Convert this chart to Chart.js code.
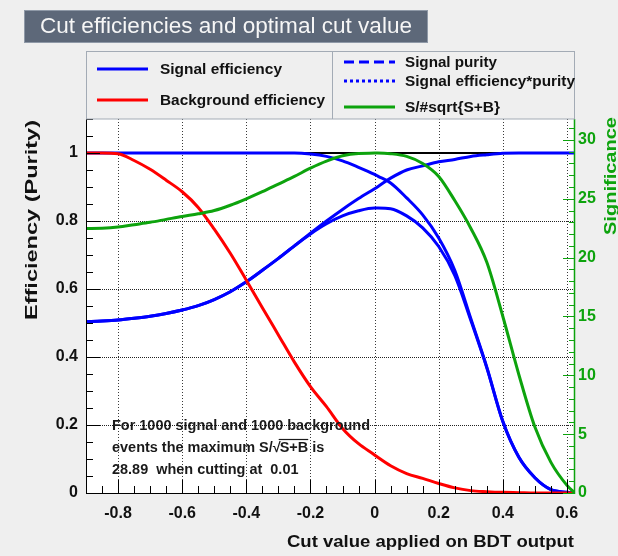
<!DOCTYPE html>
<html>
<head>
<meta charset="utf-8">
<title>Cut efficiencies and optimal cut value</title>
<script src="https://cdn.jsdelivr.net/npm/chart.js@4/dist/chart.umd.min.js"></script>
<style>
  html, body { margin: 0; padding: 0; background: #efefef; }
  #wrap { width: 618px; height: 556px; }
  canvas { display: block; }
</style>
</head>
<body>
<div id="wrap"><canvas id="cuts" width="618" height="556"></canvas></div>
<script>
// BDT cut values (x) and the efficiencies / significance obtained for each cut
const cutValues = [-0.9, -0.85, -0.8, -0.75, -0.7, -0.65, -0.6, -0.55, -0.5, -0.45, -0.4, -0.35, -0.3, -0.25,
                   -0.2, -0.15, -0.1, -0.05, 0, 0.01, 0.05, 0.1, 0.15, 0.2, 0.25, 0.3, 0.35, 0.4, 0.45, 0.5, 0.55, 0.6, 0.625];

const signalEfficiency = [1, 1, 1, 1, 1, 1, 1, 1, 1, 1, 1, 1, 1, 1,
                          0.997, 0.99, 0.977, 0.958, 0.937, 0.932, 0.912, 0.868, 0.818, 0.75, 0.655, 0.513, 0.37, 0.21, 0.105, 0.045, 0.01, 0.002, 0];

const backgroundEfficiency = [1, 1, 0.998, 0.978, 0.952, 0.92, 0.886, 0.84, 0.776, 0.705, 0.626, 0.545, 0.465, 0.385,
                              0.313, 0.254, 0.19, 0.145, 0.112, 0.105, 0.08, 0.057, 0.043, 0.028, 0.015, 0.007, 0.004, 0.002, 0.001, 0, 0, 0, 0];

const signalPurity = [0.504, 0.506, 0.509, 0.514, 0.52, 0.528, 0.538, 0.551, 0.569, 0.592, 0.621, 0.655, 0.69, 0.727,
                      0.764, 0.8, 0.834, 0.866, 0.895, 0.901, 0.926, 0.95, 0.962, 0.974, 0.981, 0.99, 0.995, 0.999, 1, 1, 1, 1, 1];

const signalEffTimesPurity = [0.504, 0.506, 0.509, 0.514, 0.52, 0.528, 0.538, 0.551, 0.569, 0.592, 0.621, 0.655, 0.69, 0.727,
                              0.762, 0.792, 0.815, 0.83, 0.838, 0.838, 0.836, 0.815, 0.78, 0.725, 0.64, 0.508, 0.368, 0.21, 0.105, 0.045, 0.01, 0.002, 0];

const significance = [22.48, 22.5, 22.6, 22.8, 23.0, 23.25, 23.5, 23.72, 24.0, 24.45, 25.0, 25.6, 26.25, 26.9,
                      27.6, 28.2, 28.65, 28.85, 28.88, 28.89, 28.83, 28.6, 28.0, 26.9, 24.85, 22.5, 19.6, 15.0, 10.05, 5.6, 2.6, 0.65, 0];

// Summary numbers quoted in the text box
const nSignalEvents = 1000;
const nBackgroundEvents = 1000;
const maxSignificance = 28.89;
const optimalCut = 0.01;

// Axis ranges and tick labels
const cutRange = [-0.9, 0.625];
const effRange = [0, 1.1];
const referenceLevel = 1;
const xTickValues = [-0.8, -0.6, -0.4, -0.2, 0, 0.2, 0.4, 0.6];
const xTickLabels = ['-0.8', '-0.6', '-0.4', '-0.2', '0', '0.2', '0.4', '0.6'];
const effTickValues = [0, 0.2, 0.4, 0.6, 0.8, 1];
const effTickLabels = ['0', '0.2', '0.4', '0.6', '0.8', '1'];
const sigTickValues = [0, 5, 10, 15, 20, 25, 30];
const sigTickLabels = ['0', '5', '10', '15', '20', '25', '30'];

const PAGE_BG = '#efefef';
const BLUE = '#0000ff';
const RED = '#ff0000';
const GREEN = '#0da30d';
const FONT = '"Liberation Sans", Arial, Helvetica, sans-serif';

function pts(values) {
  return cutValues.map((x, i) => ({ x: x, y: values[i] }));
}

// Draw text, squeezing it horizontally to the requested width
function fitText(ctx, text, x, y, width) {
  const w = ctx.measureText(text).width;
  const s = width ? width / w : 1;
  ctx.save();
  ctx.translate(x, y);
  ctx.scale(s, 1);
  ctx.fillText(text, 0, 0);
  ctx.restore();
  return w * s;
}

const decorations = {
  id: 'rootStyle',
  beforeDraw(chart) {
    const ctx = chart.ctx;
    const a = chart.chartArea;
    ctx.save();
    ctx.fillStyle = PAGE_BG;
    ctx.fillRect(0, 0, chart.width, chart.height);
    ctx.fillStyle = '#ffffff';
    ctx.fillRect(a.left, a.top, a.right - a.left, a.bottom - a.top);
    ctx.restore();
  },
  beforeDatasetsDraw(chart) {
    const ctx = chart.ctx;
    const a = chart.chartArea;
    const xs = chart.scales.x, ys = chart.scales.y;
    ctx.save();
    // dotted grid at the major ticks
    ctx.fillStyle = '#3a3a3a';
    xTickValues.forEach(v => {
      const px = Math.round(xs.getPixelForValue(v));
      for (let y = Math.ceil(a.top); y < a.bottom; y += 3) ctx.fillRect(px, y, 1, 1);
    });
    ctx.fillStyle = '#222222';
    effTickValues.forEach(v => {
      if (v <= 0) return;
      const py = Math.round(ys.getPixelForValue(v));
      for (let x = Math.ceil(a.left); x < a.right; x += 2) ctx.fillRect(x, py, 1, 1);
    });
    ctx.restore();
  },
  afterDatasetsDraw(chart) {
    const ctx = chart.ctx;
    const a = chart.chartArea;
    const xs = chart.scales.x, ys = chart.scales.y, y2 = chart.scales.y2;
    ctx.save();

    // axis lines and inward ticks
    ctx.setLineDash([]);
    ctx.lineWidth = 1;
    ctx.strokeStyle = '#000';
    ctx.beginPath();
    ctx.moveTo(a.left + 0.5, a.top); ctx.lineTo(a.left + 0.5, a.bottom + 0.5);
    ctx.lineTo(a.right, a.bottom + 0.5);
    ctx.stroke();
    for (let k = 0; k <= 22; k++) {
      const v = k * 0.05;
      const py = Math.round(ys.getPixelForValue(v)) + 0.5;
      const major = k % 4 === 0;
      ctx.beginPath(); ctx.moveTo(a.left, py); ctx.lineTo(a.left + (major ? 14 : 7), py); ctx.stroke();
    }
    for (let k = 1; k <= 30; k++) {
      const v = -0.9 + k * 0.05;
      const px = Math.round(xs.getPixelForValue(v)) + 0.5;
      const major = Math.abs(Math.round(v * 10) % 2) === 0 && Math.abs(v * 10 - Math.round(v * 10)) < 1e-6;
      ctx.beginPath(); ctx.moveTo(px, a.bottom); ctx.lineTo(px, a.bottom - (major ? 13 : 7)); ctx.stroke();
    }
    ctx.strokeStyle = GREEN;
    ctx.lineWidth = 1.5;
    ctx.beginPath(); ctx.moveTo(a.right - 0.5, a.top); ctx.lineTo(a.right - 0.5, a.bottom + 1); ctx.stroke();
    ctx.lineWidth = 1;
    for (let k = 0; k <= 31; k++) {
      const py = Math.round(y2.getPixelForValue(k)) + 0.5;
      const major = k % 5 === 0;
      ctx.beginPath(); ctx.moveTo(a.right, py); ctx.lineTo(a.right - (major ? 12 : 6), py); ctx.stroke();
    }

    // title box
    ctx.fillStyle = '#5d6879';
    ctx.fillRect(24, 10, 404, 33);
    ctx.strokeStyle = '#8f99a7';
    ctx.strokeRect(24.5, 10.5, 403, 32);
    ctx.fillStyle = '#f6f6f6';
    ctx.font = '22px ' + FONT;
    ctx.textBaseline = 'middle';
    ctx.textAlign = 'left';
    fitText(ctx, 'Cut efficiencies and optimal cut value', 40, 27, 372);

    // legend box
    ctx.fillStyle = PAGE_BG;
    ctx.fillRect(86, 51, 489, 68);
    ctx.strokeStyle = '#a3abb5';
    ctx.strokeRect(86.5, 51.5, 488, 67.5);
    ctx.beginPath(); ctx.moveTo(332.5, 51.5); ctx.lineTo(332.5, 119); ctx.stroke();
    const entries = [
      { x1: 97, x2: 148, y: 69, tx: 160, w: 122, text: 'Signal efficiency', color: BLUE, dash: [] },
      { x1: 97, x2: 148, y: 100, tx: 160, w: 165, text: 'Background efficiency', color: RED, dash: [] },
      { x1: 344, x2: 395, y: 62, tx: 405, w: 92, text: 'Signal purity', color: BLUE, dash: [10, 5] },
      { x1: 344, x2: 395, y: 81, tx: 405, w: 170, text: 'Signal efficiency*purity', color: BLUE, dash: [3, 3] },
      { x1: 344, x2: 395, y: 107, tx: 405, w: 95, text: 'S/#sqrt{S+B}', color: GREEN, dash: [] }
    ];
    ctx.font = 'bold 15px ' + FONT;
    entries.forEach(e => {
      ctx.strokeStyle = e.color;
      ctx.lineWidth = 3;
      ctx.setLineDash(e.dash);
      ctx.beginPath(); ctx.moveTo(e.x1, e.y); ctx.lineTo(e.x2, e.y); ctx.stroke();
      ctx.setLineDash([]);
      ctx.fillStyle = '#111';
      fitText(ctx, e.text, e.tx, e.y + 1, e.w);
    });

    // axis titles
    ctx.fillStyle = '#111';
    ctx.font = 'bold 16px ' + FONT;
    ctx.save();
    ctx.translate(33, 220);
    ctx.rotate(-Math.PI / 2);
    ctx.textAlign = 'left';
    fitText(ctx, 'Efficiency (Purity)', -100, 0, 200);
    ctx.restore();

    ctx.fillStyle = GREEN;
    ctx.save();
    ctx.translate(612, 176);
    ctx.rotate(-Math.PI / 2);
    fitText(ctx, 'Significance', -59, 0, 118);
    ctx.restore();

    ctx.fillStyle = '#111';
    ctx.font = 'bold 17px ' + FONT;
    fitText(ctx, 'Cut value applied on BDT output', 287, 542, 287);

    // summary text
    ctx.font = 'bold 14px ' + FONT;
    ctx.fillStyle = '#1a1a1a';
    const line1 = 'For ' + nSignalEvents + ' signal and ' + nBackgroundEvents + ' background';
    const sx = 258 / ctx.measureText(line1).width;
    const draw = (t, x, y) => fitText(ctx, t, x, y, ctx.measureText(t).width * sx);
    draw(line1, 112, 426);
    let cx = 112;
    cx += draw('events the maximum S/', cx, 448);
    cx += draw('\u221A', cx, 448) - 1;
    const wSB = draw('S+B', cx, 448);
    ctx.strokeStyle = '#1a1a1a';
    ctx.lineWidth = 1.2;
    ctx.beginPath(); ctx.moveTo(cx - 1, 439.5); ctx.lineTo(cx + wSB, 439.5); ctx.stroke();
    cx += wSB;
    draw(' is', cx, 448);
    draw(maxSignificance.toFixed(2) + '  when cutting at  ' + optimalCut.toFixed(2), 112, 470);

    ctx.restore();
  }
};

const tickFont = { family: FONT, size: 16, weight: 'bold' };

new Chart(document.getElementById('cuts'), {
  type: 'line',
  data: {
    datasets: [
      { label: 'Signal efficiency*purity', data: pts(signalEffTimesPurity), borderColor: BLUE, borderWidth: 3, order: 5 },
      { label: 'Signal purity', data: pts(signalPurity), borderColor: BLUE, borderWidth: 3, order: 4 },
      { label: 'Signal efficiency', data: pts(signalEfficiency), borderColor: BLUE, borderWidth: 3, order: 3 },
      { label: 'Background efficiency', data: pts(backgroundEfficiency), borderColor: RED, borderWidth: 3, order: 2 },
      { label: 'S/#sqrt{S+B}', data: pts(significance), borderColor: GREEN, borderWidth: 3, yAxisID: 'y2', order: 1 },
      { label: 'reference', data: [{ x: cutRange[0], y: referenceLevel }, { x: cutRange[1], y: referenceLevel }],
        borderColor: '#000', borderWidth: 2, order: 6 }
    ]
  },
  options: {
    responsive: false,
    animation: false,
    devicePixelRatio: 1,
    layout: { padding: { top: 119, left: 0, right: 0, bottom: 0 } },
    elements: {
      point: { radius: 0, hoverRadius: 0 },
      line: { cubicInterpolationMode: 'monotone', fill: false, borderCapStyle: 'butt' }
    },
    plugins: { legend: { display: false }, title: { display: false }, tooltip: { enabled: false } },
    events: [],
    scales: {
      x: {
        type: 'linear', position: 'bottom', min: cutRange[0], max: cutRange[1],
        grid: { display: false, drawTicks: false }, border: { display: false },
        afterBuildTicks: s => { s.ticks = xTickValues.map(v => ({ value: v })); },
        afterFit: s => { s.height = 63; },
        ticks: { font: tickFont, color: '#111', padding: 11, autoSkip: false, maxRotation: 0,
                 callback: (v, i) => xTickLabels[i] }
      },
      y: {
        type: 'linear', position: 'left', min: effRange[0], max: effRange[1],
        grid: { display: false, drawTicks: false }, border: { display: false },
        afterBuildTicks: s => { s.ticks = effTickValues.map(v => ({ value: v })); },
        afterFit: s => { s.width = 86; },
        ticks: { font: tickFont, color: '#111', padding: 8, callback: (v, i) => effTickLabels[i] }
      },
      y2: {
        type: 'linear', position: 'right', min: 0, max: maxSignificance * effRange[1],
        grid: { display: false, drawTicks: false }, border: { display: false },
        afterBuildTicks: s => { s.ticks = sigTickValues.map(v => ({ value: v })); },
        afterFit: s => { s.width = 43; },
        ticks: { font: tickFont, color: GREEN, padding: 3, callback: (v, i) => sigTickLabels[i] }
      }
    }
  },
  plugins: [decorations]
});
</script>
</body>
</html>
